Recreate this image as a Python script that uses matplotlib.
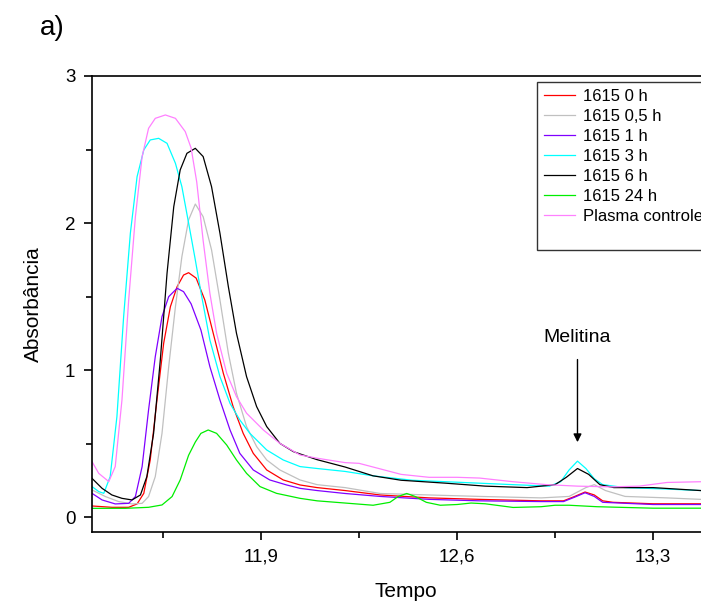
import matplotlib
matplotlib.use("Agg")
import matplotlib.pyplot as plt
from matplotlib.ticker import FixedLocator, FuncFormatter
from matplotlib.lines import Line2D

plt.rcParams['font.family'] = ['Liberation Sans', 'DejaVu Sans']

t_plasma = [11.296, 11.320, 11.356, 11.379, 11.403, 11.427, 11.451, 11.475, 11.498, 11.522, 11.558,
            11.594, 11.629, 11.650, 11.670, 11.693, 11.717, 11.741, 11.777, 11.812, 11.848, 11.908,
            11.967, 12.039, 12.10, 12.20, 12.25, 12.30, 12.40, 12.50, 12.60, 12.68, 12.80, 12.92,
            13.03, 13.15, 13.25, 13.35, 13.47]
a_plasma = [0.377, 0.297, 0.241, 0.343, 0.796, 1.476, 2.043, 2.451, 2.644, 2.712, 2.735,
            2.712, 2.622, 2.510, 2.280, 1.880, 1.522, 1.250, 0.978, 0.819, 0.706, 0.592,
            0.501, 0.422, 0.40, 0.37, 0.365, 0.34, 0.29, 0.27, 0.27, 0.265, 0.24, 0.22,
            0.21, 0.205, 0.21, 0.235, 0.24]

t_3h = [11.296, 11.320, 11.338, 11.361, 11.385, 11.409, 11.433, 11.457, 11.481, 11.504, 11.534,
        11.564, 11.594, 11.617, 11.641, 11.665, 11.685, 11.717, 11.753, 11.789, 11.824, 11.860,
        11.920, 11.979, 12.039, 12.10, 12.20, 12.30, 12.44, 12.56, 12.68, 12.80, 12.93, 12.97,
        13.00, 13.03, 13.06, 13.09, 13.12, 13.20, 13.35, 13.47]
a_3h = [0.207, 0.173, 0.161, 0.275, 0.683, 1.363, 1.930, 2.315, 2.497, 2.565, 2.576,
        2.542, 2.406, 2.247, 2.000, 1.749, 1.530, 1.204, 0.955, 0.773, 0.660, 0.569,
        0.456, 0.388, 0.343, 0.33, 0.31, 0.28, 0.25, 0.24, 0.23, 0.22, 0.21, 0.24,
        0.32, 0.38, 0.33, 0.26, 0.22, 0.20, 0.19, 0.18]

t_6h = [11.296, 11.332, 11.367, 11.403, 11.439, 11.469, 11.492, 11.516, 11.540, 11.564, 11.588,
        11.611, 11.635, 11.665, 11.693, 11.723, 11.753, 11.783, 11.812, 11.848, 11.884, 11.920,
        11.967, 12.015, 12.039, 12.10, 12.20, 12.30, 12.40, 12.56, 12.70, 12.85, 12.95, 12.99,
        13.03, 13.07, 13.11, 13.16, 13.30, 13.47]
a_6h = [0.263, 0.195, 0.150, 0.127, 0.116, 0.150, 0.275, 0.569, 1.068, 1.658, 2.111,
        2.361, 2.474, 2.508, 2.452, 2.247, 1.930, 1.567, 1.250, 0.955, 0.751, 0.615,
        0.501, 0.445, 0.429, 0.39, 0.34, 0.28, 0.25, 0.23, 0.21, 0.20, 0.22, 0.27,
        0.33, 0.29, 0.22, 0.20, 0.20, 0.18]

t_05h = [11.296, 11.344, 11.391, 11.439, 11.475, 11.498, 11.522, 11.546, 11.570, 11.594, 11.617,
         11.641, 11.665, 11.693, 11.723, 11.753, 11.783, 11.812, 11.848, 11.884, 11.920, 11.967,
         12.039, 12.10, 12.20, 12.325, 12.50, 12.68, 12.90, 13.00, 13.06, 13.09, 13.13, 13.20,
         13.35, 13.47]
a_05h = [0.184, 0.139, 0.105, 0.089, 0.093, 0.139, 0.275, 0.569, 1.023, 1.431, 1.771,
         2.021, 2.129, 2.043, 1.817, 1.476, 1.114, 0.842, 0.615, 0.479, 0.388, 0.320,
         0.252, 0.22, 0.20, 0.16, 0.15, 0.14, 0.13, 0.14, 0.20, 0.22, 0.18, 0.14,
         0.13, 0.12]

t_0h = [11.296, 11.367, 11.427, 11.457, 11.481, 11.504, 11.528, 11.552, 11.576, 11.600, 11.623,
        11.641, 11.668, 11.699, 11.729, 11.765, 11.800, 11.836, 11.872, 11.920, 11.979, 12.039,
        12.10, 12.20, 12.325, 12.50, 12.68, 12.90, 12.98, 13.02, 13.057, 13.09, 13.12, 13.157,
        13.30, 13.47]
a_0h = [0.075, 0.066, 0.066, 0.089, 0.161, 0.388, 0.796, 1.182, 1.431, 1.567, 1.646,
        1.662, 1.625, 1.476, 1.250, 0.978, 0.751, 0.569, 0.433, 0.320, 0.252, 0.218,
        0.20, 0.18, 0.15, 0.13, 0.12, 0.11, 0.11, 0.14, 0.17, 0.15, 0.11, 0.10,
        0.09, 0.09]

t_1h = [11.296, 11.332, 11.379, 11.427, 11.451, 11.475, 11.498, 11.522, 11.546, 11.570, 11.600,
        11.623, 11.650, 11.685, 11.717, 11.753, 11.789, 11.824, 11.872, 11.931, 11.991, 12.039,
        12.10, 12.20, 12.325, 12.50, 12.68, 12.90, 12.98, 13.02, 13.057, 13.09, 13.12, 13.30,
        13.47]
a_1h = [0.161, 0.116, 0.089, 0.093, 0.139, 0.343, 0.728, 1.091, 1.363, 1.499, 1.556,
        1.533, 1.450, 1.272, 1.023, 0.796, 0.592, 0.433, 0.320, 0.252, 0.218, 0.195,
        0.18, 0.16, 0.14, 0.12, 0.11, 0.105, 0.105, 0.135, 0.165, 0.14, 0.10, 0.085,
        0.085]

t_24h = [11.296, 11.415, 11.498, 11.546, 11.582, 11.611, 11.641, 11.665, 11.685, 11.711, 11.741,
         11.777, 11.812, 11.848, 11.896, 11.955, 12.039, 12.10, 12.20, 12.30, 12.36, 12.39,
         12.42, 12.45, 12.49, 12.54, 12.60, 12.65, 12.70, 12.80, 12.90, 12.95, 13.00, 13.10,
         13.30, 13.47]
a_24h = [0.059, 0.059, 0.066, 0.082, 0.139, 0.252, 0.420, 0.510, 0.569, 0.592, 0.569,
         0.490, 0.388, 0.297, 0.207, 0.161, 0.127, 0.11, 0.095, 0.08, 0.10, 0.14,
         0.16, 0.14, 0.10, 0.08, 0.085, 0.095, 0.09, 0.065, 0.07, 0.08, 0.08, 0.07,
         0.06, 0.06]

series = [
    ("1615 0 h", t_0h, a_0h, "#ff0000"),
    ("1615 0,5 h", t_05h, a_05h, "#c0c0c0"),
    ("1615 1 h", t_1h, a_1h, "#8000ff"),
    ("1615 3 h", t_3h, a_3h, "#00ffff"),
    ("1615 6 h", t_6h, a_6h, "#000000"),
    ("1615 24 h", t_24h, a_24h, "#00ee00"),
    ("Plasma controle", t_plasma, a_plasma, "#ff80ff"),
]

fig = plt.figure(figsize=(7.01, 6.06), dpi=100)
ax = fig.add_axes([92 / 701, 74 / 606, 628 / 701, 456 / 606])

for label, t, a, c in series:
    ax.plot(t, a, color=c, lw=0.9, label=label)

ax.set_xlim(11.296, 13.539)
ax.set_ylim(-0.102, 3.0)

ax.xaxis.set_major_locator(FixedLocator([11.9, 12.6, 13.3]))
ax.xaxis.set_minor_locator(FixedLocator([11.55, 12.25, 12.95]))
ax.xaxis.set_major_formatter(FuncFormatter(lambda v, p: f"{v:.1f}".replace(".", ",")))
ax.yaxis.set_major_locator(FixedLocator([0, 1, 2, 3]))
ax.yaxis.set_minor_locator(FixedLocator([0.5, 1.5, 2.5]))
ax.yaxis.set_major_formatter(FuncFormatter(lambda v, p: f"{v:.0f}"))

ax.tick_params(which="both", direction="out", width=1.2, labelsize=13.5, top=False, right=False)
ax.tick_params(which="major", length=6, pad=6)
ax.tick_params(which="minor", length=4)
for s in ax.spines.values():
    s.set_linewidth(1.2)

ax.set_xlabel("Tempo", fontsize=15, labelpad=12)
ax.set_ylabel("Absorbância", fontsize=15, labelpad=16)

ax.annotate("", xy=(13.03, 0.49), xytext=(13.03, 1.09),
            arrowprops=dict(arrowstyle="-|>", color="black", lw=1.0, mutation_scale=12))
ax.text(13.03, 1.22, "Melitina", fontsize=14, ha="center", va="center")

fig.text(52 / 701, 1 - 28 / 606, "a)", fontsize=20, ha="center", va="center")

handles, labels = ax.get_legend_handles_labels()
handles.append(Line2D([], [], color="none"))
labels.append(" ")
leg = ax.legend(handles, labels, loc="upper left", bbox_to_anchor=(537 / 701, 1 - 82 / 606),
                bbox_transform=fig.transFigure, fontsize=12, handlelength=1.9,
                handletextpad=0.45, labelspacing=0.3, borderpad=0.4, borderaxespad=0,
                frameon=True, fancybox=False)
leg.get_frame().set_edgecolor("black")
leg.get_frame().set_linewidth(1.0)

fig.savefig("out.png", dpi=100)
